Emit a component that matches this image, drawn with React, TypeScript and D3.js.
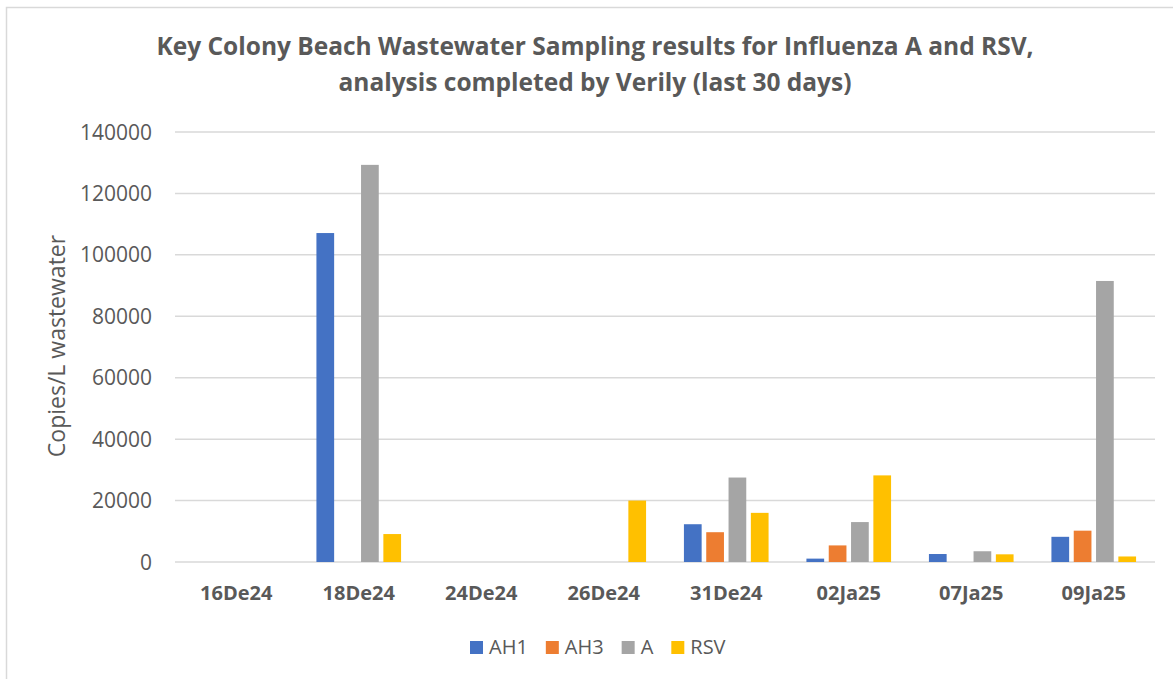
import React, { useEffect, useRef } from 'react';
import * as d3 from 'd3';

const dates = ['16De24', '18De24', '24De24', '26De24', '31De24', '02Ja25', '07Ja25', '09Ja25'];
const seriesNames = ['AH1', 'AH3', 'A', 'RSV'];
const ah1 = [0, 107100, 0, 0, 12300, 1100, 2600, 8200];
const ah3 = [0, 0, 0, 0, 9700, 5400, 0, 10200];
const fluA = [0, 129300, 0, 0, 27500, 13000, 3500, 91500];
const rsv = [0, 9100, 0, 20000, 16000, 28200, 2500, 1800];
const yTicks = [0, 20000, 40000, 60000, 80000, 100000, 120000, 140000];
const colors = ['#4472C4', '#ED7D31', '#A5A5A5', '#FFC000'];

const titleLines = [
  'Key Colony Beach Wastewater Sampling results for Influenza A and RSV,',
  'analysis completed by Verily (last 30 days)',
];

const W = 1173;
const H = 679;
const font = '"Open Sans", "Noto Sans", sans-serif';

const App = () => {
  const svgRef = useRef<SVGSVGElement>(null);

  useEffect(() => {
    const svg = d3.select(svgRef.current);
    svg.selectAll('*').remove();

    const values = [ah1, ah3, fluA, rsv];
    const margin = { top: 132, right: 18, bottom: 117, left: 175 };
    const innerW = W - margin.left - margin.right;
    const innerH = H - margin.top - margin.bottom;

    // chart border
    svg.append('rect')
      .attr('x', 6.5).attr('y', 7.5)
      .attr('width', W + 10).attr('height', H + 10)
      .attr('fill', 'white')
      .attr('stroke', '#D9D9D9')
      .attr('stroke-width', 1.5);

    // title
    svg.append('text')
      .attr('x', 595)
      .attr('y', 55)
      .attr('text-anchor', 'middle')
      .attr('font-family', font)
      .attr('font-weight', 'bold')
      .attr('font-size', 24.5)
      .attr('fill', '#595959')
      .selectAll('tspan')
      .data(titleLines)
      .enter().append('tspan')
      .attr('x', 595)
      .attr('dy', (d, i) => (i === 0 ? 0 : 36))
      .text(d => d);

    const g = svg.append('g')
      .attr('transform', `translate(${margin.left},${margin.top})`);

    const x0 = d3.scaleBand()
      .domain(dates)
      .range([0, innerW])
      .paddingInner(0.309)
      .paddingOuter(0.1545);

    const x1 = d3.scaleBand()
      .domain(seriesNames)
      .range([0, x0.bandwidth()])
      .paddingInner(0.206);

    const y = d3.scaleLinear()
      .domain([0, 140000])
      .range([innerH, 0]);

    // gridlines
    g.selectAll('.grid')
      .data(yTicks)
      .enter().append('line')
      .attr('x1', 0).attr('x2', innerW)
      .attr('y1', d => y(d)).attr('y2', d => y(d))
      .attr('stroke', '#D9D9D9')
      .attr('stroke-width', 1.5);

    // y tick labels
    g.selectAll('.ylab')
      .data(yTicks)
      .enter().append('text')
      .attr('x', -23)
      .attr('y', d => y(d) + 7.5)
      .attr('text-anchor', 'end')
      .attr('font-family', font)
      .attr('font-size', 21)
      .attr('fill', '#595959')
      .text(d => d);

    // bars
    const groups = g.selectAll('.grp')
      .data(dates)
      .enter().append('g')
      .attr('transform', d => `translate(${x0(d)},0)`);

    groups.selectAll('rect')
      .data((d, i) => seriesNames.map((s, j) => ({ s, j, v: values[j][i] })))
      .enter().append('rect')
      .filter(d => d.v > 0)
      .attr('x', d => x1(d.s)!)
      .attr('y', d => y(d.v))
      .attr('width', x1.bandwidth())
      .attr('height', d => innerH - y(d.v))
      .attr('fill', d => colors[d.j]);

    // x labels
    g.selectAll('.xlab')
      .data(dates)
      .enter().append('text')
      .attr('x', d => x0(d)! + x0.bandwidth() / 2)
      .attr('y', innerH + 38)
      .attr('text-anchor', 'middle')
      .attr('font-family', font)
      .attr('font-weight', 'bold')
      .attr('font-size', 20)
      .attr('fill', '#595959')
      .text(d => d);

    // y axis title
    svg.append('text')
      .attr('transform', `translate(65,346) rotate(-90)`)
      .attr('text-anchor', 'middle')
      .attr('font-family', font)
      .attr('font-size', 23)
      .attr('fill', '#595959')
      .text('Copies/L wastewater');

    // legend
    const legend = svg.append('g').attr('transform', 'translate(470,641)');
    let lx = 0;
    seriesNames.forEach((s, i) => {
      legend.append('rect')
        .attr('x', lx).attr('y', 0)
        .attr('width', 13).attr('height', 13)
        .attr('fill', colors[i]);
      const t = legend.append('text')
        .attr('x', lx + 19)
        .attr('y', 13)
        .attr('font-family', font)
        .attr('font-size', 20)
        .attr('fill', '#595959')
        .text(s);
      const tw = (t.node() as SVGTextElement).getComputedTextLength();
      lx += 19 + tw + 18;
    });
  }, []);

  return (
    <svg ref={svgRef} width={W} height={H} style={{ display: 'block', position: 'absolute', left: 0, top: 0 }}></svg>
  );
};

export default App;
